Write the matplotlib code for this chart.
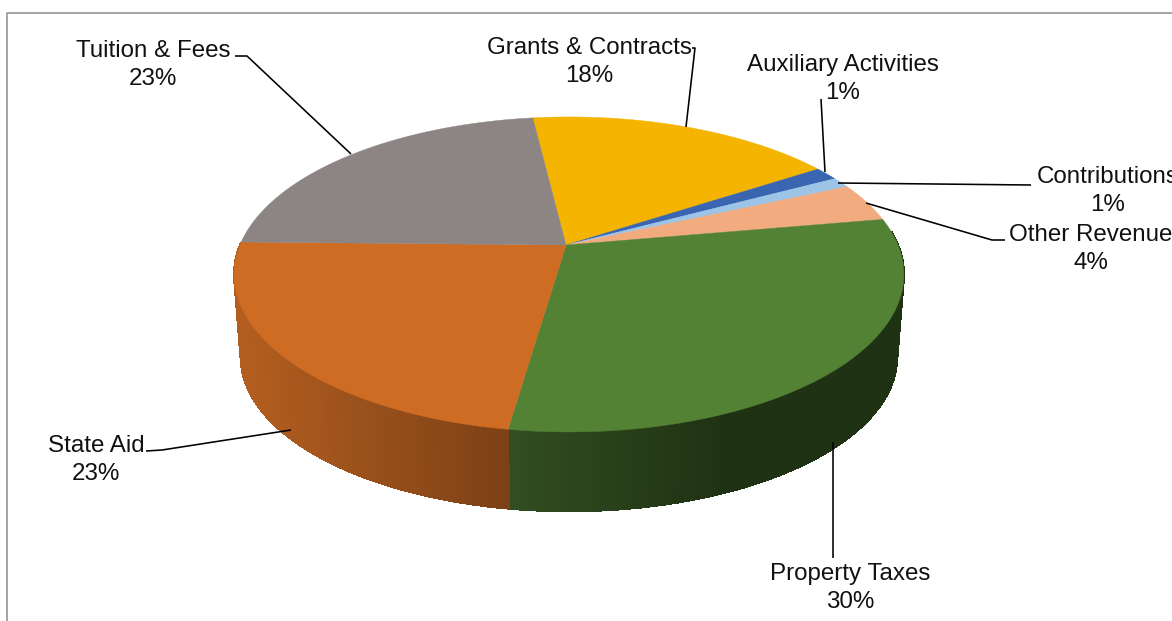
import numpy as np
import matplotlib
matplotlib.use("Agg")
import matplotlib.pyplot as plt

plt.rcParams['font.family'] = ['Liberation Sans', 'DejaVu Sans']

# clockwise from the back of the pie
labels = ['Grants & Contracts', 'Auxiliary Activities', 'Contributions',
          'Other Revenue', 'Property Taxes', 'State Aid', 'Tuition & Fees']
shares = [17.8, 1.4, 1.1, 4.0, 30.2, 22.9, 22.6]
colors = ['#F4B400', '#3A65B0', '#9DC3E6', '#F1AB7F', '#548235', '#CE6C24', '#8C8584']

# label centres and leader lines, in pixels
label_pos = [(589, 62), (843, 79), (1108, 191), (1091, 249), (850, 588), (96, 460), (153, 65)]
leaders = [[(692, 48), (695, 48), (686, 127)],
           [(821, 99), (825, 172)],
           [(1031, 185), (838, 183)],
           [(1005, 240), (992, 240), (866, 203)],
           [(833, 558), (833, 442)],
           [(146, 451), (162, 450), (291, 430)],
           [(235, 56), (247, 56), (351, 154)]]

# pie geometry
APEX = (566, 245)
RIM_SHIFT = 3
RX, RY = 329, 152
PERSP = 0.187
START = -7.5
DEPTH = 83
BOTTOM_SCALE = 0.98


def top_xy(deg):
    t = np.radians(deg)
    u, v = np.sin(t), -np.cos(t)
    w = 1 - PERSP * v
    return APEX[0] + RIM_SHIFT + RX * u / w, APEX[1] + RY * v / w


def bottom_xy(deg):
    x, y = top_xy(deg)
    return APEX[0] + BOTTOM_SCALE * (x - APEX[0]), APEX[1] + BOTTOM_SCALE * (y - APEX[1]) + DEPTH


def wall_shade(x):
    return np.clip(0.87 - 0.485 * (x - 240) / 480, 0.385, 0.87)


fig = plt.figure(figsize=(11.72, 6.21), dpi=100)
ax = fig.add_axes([0, 0, 1, 1])
ax.set_xlim(0, 1172)
ax.set_ylim(621, 0)
ax.axis('off')

edges = START + np.cumsum([0] + shares) * 3.6

# side wall first, only the part that shows below the top face
for i, col in enumerate(colors):
    base = np.array(matplotlib.colors.to_rgb(col))
    a0, a1 = edges[i], edges[i + 1]
    steps = np.arange(a0, a1 + 0.01, 1.0)
    if steps[-1] < a1:
        steps = np.append(steps, a1)
    for s0, s1 in zip(steps[:-1], steps[1:]):
        if s0 < 84 or s0 >= 270.5:
            continue
        x0, y0 = top_xy(s0)
        x1, y1 = top_xy(s1)
        x2, y2 = bottom_xy(s1)
        x3, y3 = bottom_xy(s0)
        c = base * wall_shade((x0 + x1) / 2)
        ax.fill([x0, x1, x2, x3], [y0, y1, y2, y3], color=c, lw=0.8,
                antialiased=False, zorder=2)

# top face
for i, col in enumerate(colors):
    t = np.linspace(edges[i], edges[i + 1], 80)
    xs, ys = top_xy(t)
    ax.fill(np.r_[APEX[0], xs], np.r_[APEX[1], ys], color=col, lw=0.3, zorder=3)

for pts in leaders:
    px, py = zip(*pts)
    ax.plot(px, py, color='black', lw=1.15, zorder=4, solid_capstyle='butt')

for name, share, (lx, ly) in zip(labels, shares, label_pos):
    ax.text(lx, ly, '{}\n{:.0f}%'.format(name, share), ha='center', va='center',
            fontsize=17.4, color='#111111', linespacing=1.35, zorder=5)

# chart frame, only the top and left edges are in the crop
ax.plot([6.5, 6.5, 1172], [621, 12.5, 12.5], color='#8C8C8C', lw=1.1, zorder=1)

fig.savefig('out.png', dpi=100)
